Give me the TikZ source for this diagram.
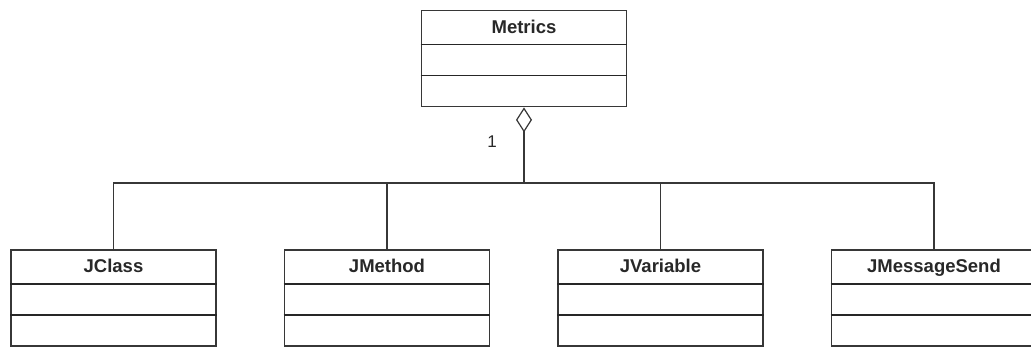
\documentclass[tikz,border=0pt]{standalone}
\usepackage{fontspec}
\setmainfont{Liberation Sans}
\usetikzlibrary{arrows.meta}
\definecolor{ln}{RGB}{55,55,55}
\definecolor{tx}{RGB}{40,40,40}
\tikzset{
  cls/.style={draw=ln, line width=1.8pt, fill=white, minimum width=205pt, minimum height=96pt, inner sep=0pt},
  ttl/.style={font=\bfseries\fontsize{18.5}{20}\selectfont, text=tx, inner sep=0pt, anchor=base},
  divider/.style={draw=black!85, line width=1.4pt},
  conn/.style={draw=ln, line width=1.6pt},
}
\newcommand{\umlclass}[3]{%
  \node[cls] (#1) at (#2) {};
  \node[ttl] (#1t) at ([yshift=-23.5pt]#1.north) {#3};
  \draw[divider] ([yshift=-35pt]#1.north west) -- ([yshift=-35pt]#1.north east);
  \draw[divider] ([yshift=-66pt]#1.north west) -- ([yshift=-66pt]#1.north east);
}
\begin{document}
\begin{tikzpicture}[x=1pt,y=-1pt]
\useasboundingbox[fill=white] (0,0) rectangle (1031,347);
\umlclass{metrics}{524,58.5}{Metrics}
\umlclass{jclass}{113.5,298}{JClass}
\umlclass{jmethod}{387,298}{JMethod}
\umlclass{jvariable}{660.5,298}{JVariable}
\umlclass{jmsg}{934,298}{JMessageSend}
\coordinate (bus) at (524,183);
\draw[conn, {Diamond[open, length=25pt, width=16pt, line width=1.2pt]}-] (metrics.south) -- (bus);
\draw[conn] (jclass.north) |- (jmsg.north |- bus) -- (jmsg.north);
\draw[conn] (jmethod.north) -- (jmethod.north |- bus);
\draw[conn] (jvariable.north) -- (jvariable.north |- bus);
\node[font=\fontsize{17}{19}\selectfont, text=tx, inner sep=0pt] (mult) at (492,142) {1};
\end{tikzpicture}
\end{document}
